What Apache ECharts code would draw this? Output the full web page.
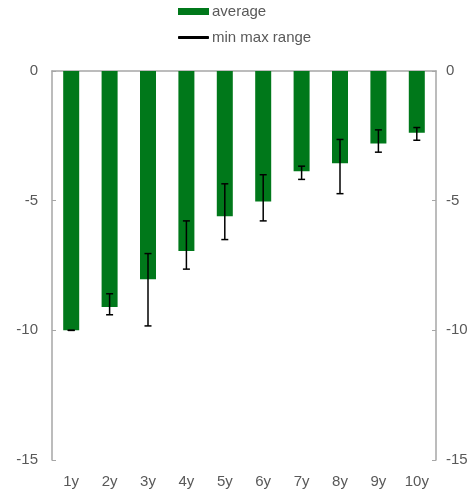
<!DOCTYPE html>
<html>
<head>
<meta charset="utf-8">
<script src="https://cdn.jsdelivr.net/npm/echarts@6/dist/echarts.min.js"></script>
<style>
  html, body { margin: 0; padding: 0; background: #fff; }
  #chart { width: 473px; height: 493px; }
</style>
</head>
<body>
<div id="chart"></div>
<script>
// tenors and values
var tenors = ["1y", "2y", "3y", "4y", "5y", "6y", "7y", "8y", "9y", "10y"];
var average = [-10, -9.1, -8.03, -6.94, -5.6, -5.03, -3.87, -3.56, -2.8, -2.38];
var rangeMin = [-10, -9.4, -9.83, -7.64, -6.5, -5.78, -4.18, -4.73, -3.13, -2.67];
var rangeMax = [-10, -8.59, -7.04, -5.78, -4.35, -4.0, -3.67, -2.64, -2.27, -2.18];

var GREEN = "#00781a";
var TEXT = "#595959";
var AXIS = "#a6a6a6";
var FONT = "Liberation Sans";

var rangeData = tenors.map(function(t, i) {
  return [i, rangeMin[i], rangeMax[i]];
});

function renderRange(params, api) {
  var x = api.value(0);
  var lo = api.coord([x, api.value(1)]);
  var hi = api.coord([x, api.value(2)]);
  var half = 3.5;
  var style = { stroke: "#000", lineWidth: 1.5 };
  return {
    type: "group",
    children: [
      { type: "line", shape: { x1: lo[0], y1: lo[1], x2: hi[0], y2: hi[1] }, style: style },
      { type: "line", shape: { x1: lo[0] - half, y1: lo[1], x2: lo[0] + half, y2: lo[1] }, style: style },
      { type: "line", shape: { x1: hi[0] - half, y1: hi[1], x2: hi[0] + half, y2: hi[1] }, style: style }
    ]
  };
}

function yAxisFor(pos, margin) {
  return {
    type: "value",
    position: pos,
    min: -15,
    max: 0,
    interval: 5,
    splitLine: { show: false },
    axisLine: { show: true, lineStyle: { color: AXIS, width: 1.5 } },
    axisTick: { show: true, inside: true, length: 4, lineStyle: { color: AXIS } },
    axisLabel: { color: TEXT, fontSize: 15, fontFamily: FONT, margin: margin }
  };
}

var legendText = { color: TEXT, fontSize: 15, fontFamily: FONT, padding: [0, 0, 0, -2] };

var chart = echarts.init(document.getElementById("chart"));
chart.setOption({
  animation: false,
  grid: { left: 52, right: 37, top: 71, bottom: 33 },
  legend: [{
    data: [{ name: "average", icon: "rect" }],
    left: 178,
    top: 4,
    padding: 0,
    itemWidth: 31,
    itemHeight: 7,
    textStyle: legendText
  }, {
    data: [{ name: "min max range", icon: "roundRect", itemStyle: { color: "#000" } }],
    left: 178,
    top: 30,
    padding: 0,
    itemWidth: 31,
    itemHeight: 3,
    textStyle: legendText
  }],
  xAxis: [{
    type: "category",
    data: tenors,
    position: "bottom",
    axisLine: { show: false },
    axisTick: { show: false },
    axisLabel: { color: TEXT, fontSize: 15, fontFamily: FONT, margin: 14 }
  }, {
    type: "category",
    data: tenors,
    position: "top",
    axisLine: { show: true, onZero: false, lineStyle: { color: AXIS, width: 1.5 } },
    axisTick: { show: false },
    axisLabel: { show: false }
  }],
  yAxis: [yAxisFor("left", 14), yAxisFor("right", 10)],
  series: [{
    name: "average",
    type: "bar",
    data: average,
    barWidth: 16,
    itemStyle: { color: GREEN }
  }, {
    name: "min max range",
    type: "custom",
    data: rangeData,
    renderItem: renderRange,
    itemStyle: { color: "#000" },
    z: 5
  }]
});
</script>
</body>
</html>
